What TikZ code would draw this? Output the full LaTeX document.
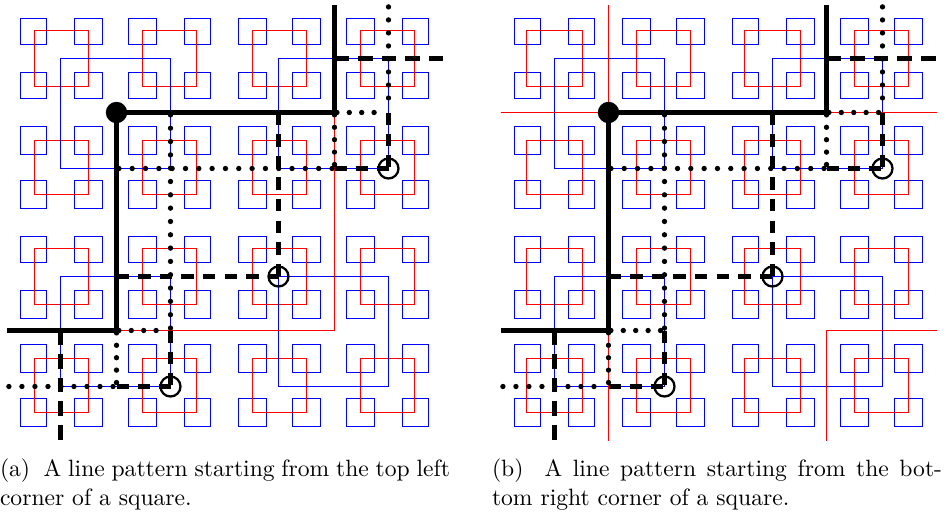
\documentclass[tikz,border=0pt]{standalone}
\usetikzlibrary{calc}
\definecolor{pblue}{RGB}{0,0,255}
\definecolor{pred}{RGB}{255,0,0}
\newcommand{\gp}[2]{({gx(#1)},{gy(#2)})}
\newcommand{\cpt}[3]{\coordinate (#1) at ({gx(#2)},{gy(#3)});}
\newcommand{\dashedline}[3]{\draw[blackline,dash pattern=on #3 off 6.9pt] (#1) -- (#2);}
\def\xo{19.7}
\tikzset{
  declare function={gx(\k)=2*round((\xo+13.63*(\k))/2)+0.5;gy(\k)=2*round((17.2+13.63*(\k))/2)+0.5;},
  bluel/.style={draw=pblue,line width=1pt},
  redl/.style={draw=pred,line width=1pt},
  blackline/.style={draw=black,line width=3.2pt},
  dotl/.style={draw=black,line width=4pt,line cap=round,shorten <=1.8pt,shorten >=1.8pt},
  bigdot/.style={circle,fill=black,draw=none,minimum size=16pt,inner sep=0pt},
  ring/.style={circle,draw=black,line width=1.7pt,fill=none,minimum size=15pt,inner sep=0pt},
  capline/.style={anchor=base west,inner sep=0pt,outer sep=0pt,scale=1.77}
}
\newcommand{\basegrid}{%
  \foreach \i in {0,4,...,28} \foreach \j in {0,4,...,28}
    \draw[bluel] \gp{\i}{\j} rectangle \gp{\i+2}{\j+2};
  \foreach \i in {1,9,17,25} \foreach \j in {1,9,17,25}
    \draw[redl] \gp{\i}{\j} rectangle \gp{\i+4}{\j+4};
  \foreach \i in {3,19} \foreach \j in {3,19}
    \draw[bluel] \gp{\i}{\j} rectangle \gp{\i+8}{\j+8};
}
\newcommand{\linepattern}{%
  % grid points used by the line pattern
  \cpt{tA}{23}{-1} \cpt{cA}{23}{7} \cpt{cB}{7}{23}
  \cpt{lA}{-1}{23} \cpt{cC}{23}{3} \cpt{rA}{31}{3}
  \cpt{dA}{3}{23} \cpt{bA}{3}{31} \cpt{uA}{19}{7}
  \cpt{lB}{7}{19} \cpt{uB}{27}{7} \cpt{lC}{23}{11}
  \cpt{uC}{11}{23} \cpt{lD}{7}{27}
  \cpt{rB}{7}{11} \cpt{uD}{11}{7} \cpt{tB}{27}{-1}
  \cpt{lE}{-1}{27}
  \cpt{mA}{19}{19} \cpt{mB}{27}{11} \cpt{mC}{11}{27} \cpt{sP}{7}{7}
  % dotted
  \draw[dotl,dash pattern=on 0pt off 9.99pt] (rB) -- (lC);
  \draw[dotl,dash pattern=on 0pt off 9.99pt] (uD) -- (uC);
  \draw[dotl,dash pattern=on 0pt off 9.76pt] (tB) -- (uB);
  \draw[dotl,dash pattern=on 0pt off 9.76pt] (lE) -- (lD);
  \draw[dotl,dash pattern=on 0pt off 9.3pt] (cA) -- (uB);
  \draw[dotl,dash pattern=on 0pt off 9.3pt] (cA) -- (lC);
  \draw[dotl,dash pattern=on 0pt off 9.3pt] (cB) -- (uC);
  \draw[dotl,dash pattern=on 0pt off 9.3pt] (cB) -- (lD);
  % dashed
  \dashedline{cC}{rA}{10.84pt}
  \dashedline{dA}{bA}{10.84pt}
  \dashedline{uA}{mA}{9.3pt}
  \dashedline{lB}{mA}{9.3pt}
  \dashedline{uB}{mB}{9.03pt}
  \dashedline{lC}{mB}{9.03pt}
  \dashedline{uC}{mC}{9.03pt}
  \dashedline{lD}{mC}{9.03pt}
  % solid
  \node[bigdot] (start) at (sP) {};
  \draw[blackline,line join=miter] (lA) -- (cB) -- (start.center) -- (cA) -- (tA);
  \node[ring] (endA) at (mA) {};
  \node[ring] (endB) at (mB) {};
  \node[ring] (endC) at (mC) {};
}
\begin{document}
\begin{tikzpicture}[x=0.75pt,y=-0.75pt]
\useasboundingbox (0,0) rectangle (946,514);
\begin{scope}[name prefix=a-]
  \basegrid
  \draw[redl] \gp{7}{7} rectangle \gp{23}{23};
  \linepattern
\end{scope}
\def\xo{513.2}
\begin{scope}[name prefix=b-]
  \basegrid
  \draw[redl] \gp{-1}{7} -- \gp{31}{7};
  \draw[redl] \gp{7}{-1} -- \gp{7}{31};
  \draw[redl] \gp{31}{23} -- \gp{23}{23} -- \gp{23}{31};
  \linepattern
\end{scope}
\node[capline] (capA1) at (0,476) {\hbox to 190.7pt{(a) \ A line pattern starting from the top left}};
\node[capline] (capA2) at (0,505) {corner of a square.};
\node[capline] (capB1) at (492,476) {\hbox to 190.7pt{(b) \ A line pattern starting from the bot-}};
\node[capline] (capB2) at (492,505) {tom right corner of a square.};
\end{tikzpicture}
\end{document}
